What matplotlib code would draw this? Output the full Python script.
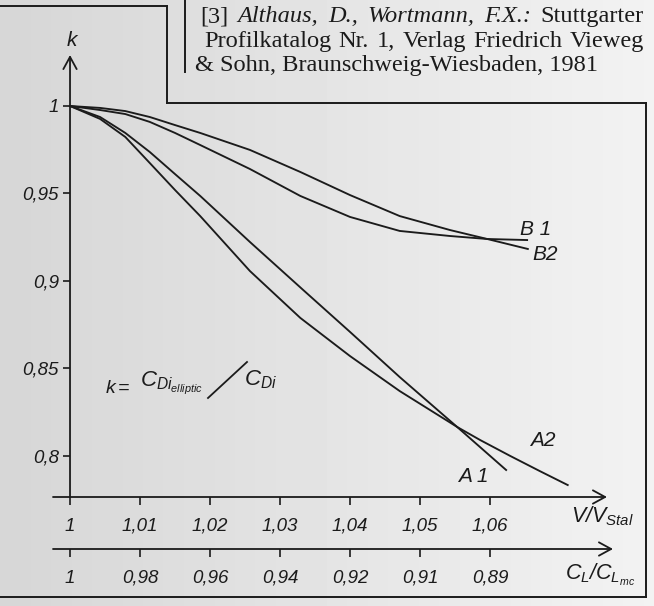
import numpy as np
import matplotlib.pyplot as plt
from matplotlib.lines import Line2D

# values: v = V/V_Stal, k = C_Di,elliptic / C_Di
v_a1 = [1.0, 1.0043, 1.0079, 1.0114, 1.015, 1.0186, 1.0257, 1.0333, 1.04, 1.0471, 1.0553, 1.0623]
k_a1 = [1.0, 0.9937, 0.9846, 0.9737, 0.9611, 0.9486, 0.9223, 0.8949, 0.8709, 0.8451, 0.8166, 0.792]

v_a2 = [1.0, 1.0043, 1.0079, 1.0114, 1.015, 1.0186, 1.0257, 1.0329, 1.04, 1.0471,
        1.0553, 1.0586, 1.0629, 1.0671, 1.0711]
k_a2 = [1.0, 0.9926, 0.9823, 0.9674, 0.952, 0.9371, 0.9057, 0.8789, 0.8571, 0.8371,
        0.8166, 0.8091, 0.8, 0.7914, 0.7834]

v_b1 = [1.0, 1.0043, 1.0079, 1.0114, 1.015, 1.0186, 1.0257, 1.0329, 1.04, 1.0471, 1.0543, 1.0596, 1.0653]
k_b1 = [1.0, 0.9977, 0.9954, 0.9909, 0.9846, 0.9777, 0.964, 0.9486, 0.9366, 0.9286, 0.9257, 0.924, 0.9234]

v_b2 = [1.0, 1.0043, 1.0079, 1.0114, 1.015, 1.0186, 1.0257, 1.0329, 1.04, 1.0471, 1.0543, 1.0596, 1.0654]
k_b2 = [1.0, 0.9989, 0.9971, 0.9937, 0.9891, 0.9846, 0.9749, 0.9623, 0.9491, 0.9371, 0.9291, 0.924, 0.9183]

v_ticks = [1.0, 1.01, 1.02, 1.03, 1.04, 1.05, 1.06]
v_labels = ['1', '1,01', '1,02', '1,03', '1,04', '1,05', '1,06']
cl_labels = ['1', '0,98', '0,96', '0,94', '0,92', '0,91', '0,89']
k_ticks = [0.8, 0.85, 0.9, 0.95, 1.0]
k_labels = ['0,8', '0,85', '0,9', '0,95', '1']

ref_line1 = [('[3]', 'normal'), ('Althaus,', 'italic'), ('D.,', 'italic'),
             ('Wortmann,', 'italic'), ('F.X.:', 'italic'), ('Stuttgarter', 'normal')]
ref_line2 = 'Profilkatalog Nr. 1, Verlag Friedrich Vieweg'
ref_line3 = '& Sohn, Braunschweig-Wiesbaden, 1981'

W, H = 654, 606
ink = '#1b1b1b'
sans = 'Liberation Sans'
serif = 'Liberation Serif'
ref_size = 17.6

plt.rcParams['mathtext.fontset'] = 'custom'
plt.rcParams['mathtext.it'] = 'Liberation Sans:italic'
plt.rcParams['mathtext.rm'] = 'Liberation Sans:italic'


def fx(px):
    return px / W


def fy(py):
    return 1 - py / H


fig = plt.figure(figsize=(W / 100, H / 100), dpi=100, facecolor='#e8e8e8')

# scanned paper: darker on the left, lighter to the right
bg = fig.add_axes([0, 0, 1, 1], zorder=-10)
shade = np.linspace(0.84, 0.95, 64)[None, :]
bg.imshow(shade, cmap='gray', vmin=0, vmax=1, aspect='auto', extent=[0, 1, 0, 1])
bg.axis('off')

# axes box: x-axis line from px 53 to 607 at py 497, y-axis arrow top at py 55
ax = fig.add_axes([fx(53), fy(497), (607 - 53) / W, (497 - 55) / H])
ax.set_facecolor('none')
ax.set_xlim(0.99757, 1.07671)
ax.set_ylim(0.77657, 1.02914)

for s in ['top', 'right', 'bottom', 'left']:
    ax.spines[s].set_visible(False)
ax.spines['left'].set_position(('data', 1.0))

for v, k in [(v_a1, k_a1), (v_a2, k_a2), (v_b1, k_b1), (v_b2, k_b2)]:
    ax.plot(v, k, color=ink, lw=1.35, solid_joinstyle='round')

arrow = dict(arrowstyle='->,head_length=0.55,head_width=0.3', color=ink, lw=1.3,
             shrinkA=0, shrinkB=0, mutation_scale=16)
ax.annotate('', xy=(1.0, 1.02914), xytext=(1.0, 0.77657), arrowprops=arrow,
            annotation_clip=False)
ax.annotate('', xy=(1.07671, 0.77657), xytext=(0.99757, 0.77657), arrowprops=arrow,
            annotation_clip=False)

ax.set_yticks(k_ticks, k_labels)
ax.set_xticks(v_ticks, v_labels)
ax.tick_params(axis='y', direction='out', length=5, width=1.2, color=ink, pad=3,
               labelsize=13.5, labelcolor=ink)
ax.tick_params(axis='x', direction='out', length=6, width=1.2, color=ink, pad=9,
               labelsize=13.5, labelcolor=ink)
for lab in ax.get_xticklabels() + ax.get_yticklabels():
    lab.set_fontfamily(sans)
    lab.set_fontstyle('italic')

# second scale C_L / C_Lmc
loc2 = -(549 - 497) / (497 - 55)
sec = ax.secondary_xaxis(loc2)
sec.spines['bottom'].set_visible(False)
sec.set_xticks(v_ticks, cl_labels)
sec.tick_params(axis='x', direction='out', length=6, width=1.2, color=ink, pad=9,
                labelsize=13.5, labelcolor=ink)
for lab in sec.get_xticklabels():
    lab.set_fontfamily(sans)
    lab.set_fontstyle('italic')
ax.annotate('', xy=(1.07757, loc2), xytext=(0.99757, loc2), arrowprops=arrow,
            xycoords=('data', 'axes fraction'), textcoords=('data', 'axes fraction'),
            annotation_clip=False)

# axis titles
ax.text(1.0003, 1.0377, 'k', fontsize=15, family=sans, style='italic', color=ink,
        ha='center', va='center', clip_on=False)
ax.text(1.0761, 0.7655, r'$V/V_{Stal}$', fontsize=15.5, color=ink,
        ha='center', va='center', clip_on=False)
ax.text(1.0757, 0.7320, r'$C_L/C_{L_{mc}}$', fontsize=15.5, color=ink,
        ha='center', va='center', clip_on=False)

# curve names
lab_kw = dict(fontsize=15, family=sans, style='italic', color=ink, ha='center', va='center')
ax.text(1.06657, 0.9297, 'B 1', **lab_kw)
ax.text(1.06786, 0.9149, 'B2', **lab_kw)
ax.text(1.05757, 0.7880, 'A 1', **lab_kw)
ax.text(1.06757, 0.8091, 'A2', **lab_kw)

# k = C_Di,elliptic / C_Di written with a long slash
fig.text(fx(105), fy(393), r'$k =$', fontsize=14, color=ink, va='baseline')
fig.text(fx(140), fy(386), r'$C_{Di_{elliptic}}$', fontsize=16, color=ink, va='baseline')
fig.add_artist(Line2D([fx(208), fx(247)], [fy(398), fy(362)], color=ink, lw=1.3))
fig.text(fx(244), fy(385), r'$C_{Di}$', fontsize=16, color=ink, va='baseline')

# frame lines of the scanned page
frame = [([0, 167], [6, 6]), ([167, 167], [6, 103]), ([167, 646], [103, 103]),
         ([646, 646], [103, 597]), ([0, 646], [597, 597]), ([185, 185], [0, 72])]
for xs, ys in frame:
    fig.add_artist(Line2D([fx(x) for x in xs], [fy(y) for y in ys], color=ink, lw=1.4))

# literature reference at the top, justified to the right border
renderer = fig.canvas.get_renderer()


def justify(tokens, x0, x1, y):
    texts = [fig.text(0, fy(y), w, family=serif, style=st, fontsize=ref_size,
                      color=ink, va='baseline') for w, st in tokens]
    widths = [t.get_window_extent(renderer).width for t in texts]
    gap = (x1 - x0 - sum(widths)) / (len(texts) - 1)
    x = x0
    for t, w in zip(texts, widths):
        t.set_x(fx(x))
        x += w + gap


justify(ref_line1, 200, 644, 22)
justify([(w, 'normal') for w in ref_line2.split(' ')], 204, 644, 47)
fig.text(fx(195), fy(71), ref_line3, family=serif, fontsize=ref_size, color=ink,
         va='baseline')

fig.savefig('out.png', dpi=100, facecolor=fig.get_facecolor())
